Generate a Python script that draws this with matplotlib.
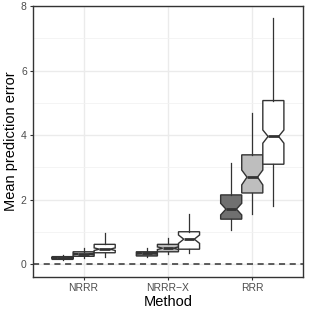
import numpy as np
import matplotlib
matplotlib.use("Agg")
import matplotlib.pyplot as plt

plt.rcParams['font.family'] = ['Liberation Sans', 'DejaVu Sans']

# Methods on x axis, three settings per method (dodged boxes)
methods = ["NRRR", "NRRR\u2212X", "RRR"]
fills = ["#707070", "#bebebe", "#ffffff"]

# box statistics: rows = method, cols = setting
whislo = [[0.13, 0.19, 0.24], [0.22, 0.32, 0.34], [1.06, 1.56, 1.81]]
q1 = [[0.155, 0.25, 0.36], [0.26, 0.39, 0.47], [1.40, 2.21, 3.10]]
med = [[0.20, 0.32, 0.47], [0.34, 0.50, 0.78], [1.71, 2.70, 3.96]]
q3 = [[0.24, 0.39, 0.62], [0.39, 0.62, 1.01], [2.15, 3.39, 5.07]]
whishi = [[0.30, 0.50, 0.96], [0.50, 0.81, 1.56], [3.13, 4.68, 7.63]]
cilo = [[0.19, 0.30, 0.43], [0.32, 0.46, 0.65], [1.53, 2.46, 3.75]]
cihi = [[0.21, 0.34, 0.51], [0.36, 0.54, 0.91], [1.89, 2.92, 4.16]]

fig = plt.figure(figsize=(3.1, 3.1), dpi=100)
ax = fig.add_axes([0.1065, 0.1065, 0.8705, 0.8745])

ax.set_xlim(0.4, 3.6)
ax.set_ylim(-0.39, 8.0)
ax.set_yticks([0, 2, 4, 6, 8])
ax.set_yticks([1, 3, 5, 7], minor=True)
ax.set_xticks([1, 2, 3])
ax.set_xticklabels(methods)
ax.grid(True, which="major", color="#ebebeb", lw=1.0, zorder=0)
ax.grid(True, which="minor", axis="y", color="#f2f2f2", lw=0.6, zorder=0)
ax.tick_params(which="minor", length=0)
ax.tick_params(which="major", length=2.5, width=0.8, color="#333333",
               labelsize=7.5, labelcolor="#4d4d4d", pad=2)
ax.set_axisbelow(True)

ax.axhline(0, color="#333333", lw=1.1, ls=(0, (4, 3)), zorder=1)

offsets = [-0.25, 0.0, 0.25]
for i in range(len(methods)):
    for j in range(3):
        st = dict(whislo=whislo[i][j], q1=q1[i][j], med=med[i][j], q3=q3[i][j],
                  whishi=whishi[i][j], cilo=cilo[i][j], cihi=cihi[i][j], fliers=[])
        ax.bxp([st], positions=[i + 1 + offsets[j]], widths=0.25, shownotches=True,
               showcaps=False, showfliers=False, patch_artist=True,
               boxprops=dict(facecolor=fills[j], edgecolor="#333333", lw=1.0),
               whiskerprops=dict(color="#333333", lw=0.9),
               medianprops=dict(color="#333333", lw=2.0),
               manage_ticks=False, zorder=2)

for s in ax.spines.values():
    s.set_color("#333333")
    s.set_linewidth(1.0)

ax.set_xlabel("Method", fontsize=10.5, labelpad=1)
ax.set_ylabel("Mean prediction error", fontsize=10.5, labelpad=2)

fig.savefig("out.png", dpi=100)
